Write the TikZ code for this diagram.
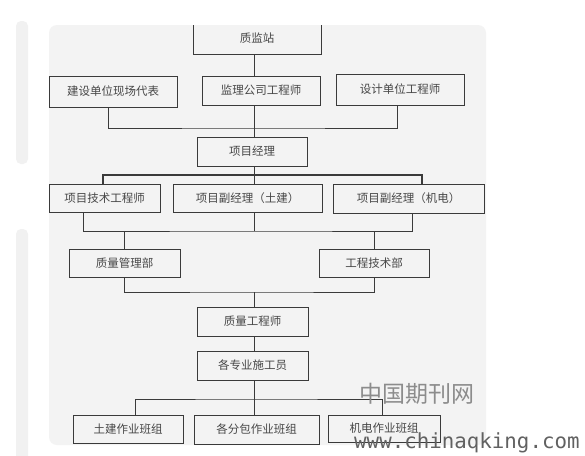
\documentclass[tikz,border=0pt]{standalone}
\usepackage{fontspec}
\newfontfamily\cjkfont{Noto Sans CJK SC}
\setmonofont{DejaVu Sans Mono}
\usepackage{xcolor}
\usepackage{tikz}
\definecolor{panelgray}{HTML}{F3F3F3}
\definecolor{stripgray}{HTML}{F1F1F1}
\definecolor{inkgray}{HTML}{3A3A3A}
\tikzset{
  orgpanel/.style={fill=panelgray, draw=none, rounded corners=8pt},
  orgstrip/.style={fill=stripgray, draw=none, rounded corners=5pt},
  orgbox/.style={draw=inkgray, fill=panelgray, line width=0.9pt, inner sep=0pt,
    font=\cjkfont\fontsize{11.5}{12}\selectfont, text=black!72},
  orgline/.style={draw=inkgray, line width=0.9pt},
  orgmark/.style={inner sep=0pt},
}
\begin{document}
\begin{tikzpicture}[x=1pt,y=-1pt]
\useasboundingbox (0,0) rectangle (585,455);
\fill[white] (0,0) rectangle (585,455);
\fill[orgstrip] (16,21) rectangle (28,164);
\fill[orgstrip] (16,229) rectangle (28,470);
\fill[orgpanel] (49,25) rectangle (486,445);
\begin{scope}
\clip (49,25) rectangle (486,445);
\node[orgbox, minimum width=128pt, minimum height=33pt] (zjz) at (257,38) {质监站};
\end{scope}
\node[orgbox, minimum width=128pt, minimum height=31pt] (jsdw) at (113,91.5) {建设单位现场代表};
\node[orgbox, minimum width=118pt, minimum height=29pt] (jlgs) at (261,90.5) {监理公司工程师};
\node[orgbox, minimum width=128pt, minimum height=31pt] (sjdw) at (400,89.5) {设计单位工程师};
\node[orgbox, minimum width=110pt, minimum height=29pt] (xmjl) at (252,151.5) {项目经理};
\node[orgbox, minimum width=111pt, minimum height=28pt] (jsgcs) at (104.5,198) {项目技术工程师};
\node[orgbox, minimum width=149pt, minimum height=28pt] (fjltj) at (247.5,198) {项目副经理（土建）};
\node[orgbox, minimum width=151pt, minimum height=29pt] (fjljd) at (408.5,198.5) {项目副经理（机电）};
\node[orgbox, minimum width=111pt, minimum height=28pt] (zlglb) at (124.5,263) {质量管理部};
\node[orgbox, minimum width=110pt, minimum height=28pt] (gcjsb) at (374,263) {工程技术部};
\node[orgbox, minimum width=111pt, minimum height=29pt] (zlgcs) at (252.5,321.5) {质量工程师};
\node[orgbox, minimum width=111pt, minimum height=29pt] (sgy) at (252.5,365.5) {各专业施工员};
\node[orgbox, minimum width=110pt, minimum height=28pt] (bztj) at (128,429) {土建作业班组};
\node[orgbox, minimum width=125pt, minimum height=29pt] (bzfb) at (256.5,429.5) {各分包作业班组};
\node[orgbox, minimum width=112pt, minimum height=27pt] (bzjd) at (384,428.5) {机电作业班组};
\coordinate (trunk) at (254,0);
\coordinate (bus1) at (254,128);
\coordinate (bus2) at (254,175);
\coordinate (bus3) at (254,231);
\coordinate (bus4) at (254,292);
\coordinate (bus5) at (254,399);
\draw[orgline] (zjz.south -| trunk) -- (jlgs.north -| trunk);
\draw[orgline] ([xshift=-5pt]jsdw.south) |- (bus1) -| ([xshift=-3pt]sjdw.south);
\draw[orgline] (jlgs.south -| trunk) -- (xmjl.north -| trunk);
\draw[orgline] (xmjl.south -| trunk) -- (fjltj.north -| trunk);
\draw[orgline, line width=1.3pt] ([xshift=-1.5pt]jsgcs.north) |- (bus2) -| ([xshift=13.5pt]fjljd.north);
\draw[orgline] ([xshift=-21.5pt]jsgcs.south) |- (bus3) -| ([xshift=3.5pt]fjljd.south);
\draw[orgline] (fjltj.south -| trunk) -- (bus3);
\draw[orgline] (zlglb.north) -- (zlglb.north |- bus3);
\draw[orgline] (gcjsb.north) -- (gcjsb.north |- bus3);
\draw[orgline] (zlglb.south) |- (bus4) -| (gcjsb.south);
\draw[orgline] (bus4) -- (zlgcs.north -| trunk);
\draw[orgline] (zlgcs.south -| trunk) -- (sgy.north -| trunk);
\draw[orgline] (sgy.south -| trunk) -- (bzfb.north -| trunk);
\draw[orgline] ([xshift=7pt]bztj.north) |- (bus5) -| ([xshift=-2pt]bzjd.north);
\node[orgmark, anchor=west, text=black!45, font=\cjkfont\fontsize{23}{23}\selectfont] (wmcn) at (359,394) {中国期刊网};
\node[orgmark, anchor=base west, text=black!62, font=\ttfamily\fontsize{20.8}{21}\selectfont] (wmurl) at (354,448) {www.chinaqking.com};
\end{tikzpicture}
\end{document}
